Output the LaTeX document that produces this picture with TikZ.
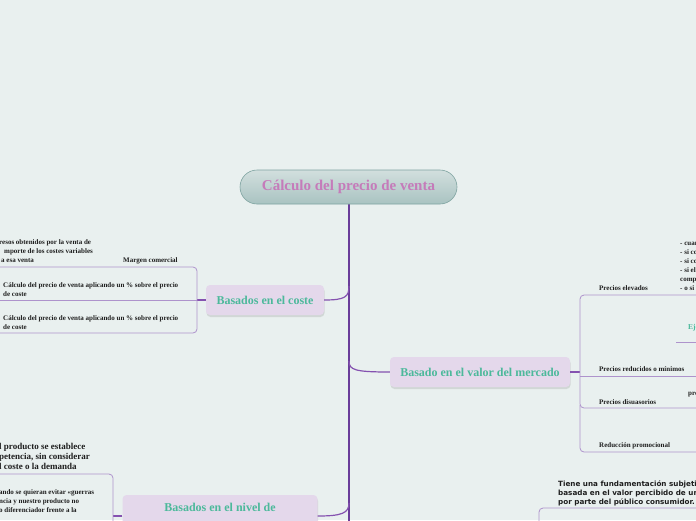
\documentclass[tikz,border=0pt]{standalone}
\usepackage{fontspec}
\setmainfont{Liberation Serif}
\newfontfamily\vsans{DejaVu Sans}
\usetikzlibrary{shadows}
\definecolor{bg}{HTML}{E9F0EF}
\definecolor{trunkc}{HTML}{6A3D9A}
\definecolor{branchc}{HTML}{8552B0}
\definecolor{subc}{HTML}{AE93CC}
\definecolor{topicfill}{HTML}{E4D8EB}
\definecolor{topictext}{HTML}{4CB99B}
\definecolor{centtop}{HTML}{D2DFDE}
\definecolor{centbot}{HTML}{A9C3C1}
\definecolor{centborder}{HTML}{7EA3A0}
\definecolor{centtext}{HTML}{C57BBA}
\definecolor{txt}{HTML}{1E1E1E}
\tikzset{
  central/.style={draw=centborder, line width=0.6pt, top color=centtop, bottom color=centbot,
    rounded corners=17pt, minimum width=217pt, minimum height=34pt, inner sep=0pt,
    text=centtext, font=\bfseries\fontsize{15}{17}\selectfont},
  topic/.style={fill=topicfill, rounded corners=4pt, inner sep=0pt, text=topictext,
    font=\bfseries\fontsize{12}{19}\selectfont,
    drop shadow={opacity=0.22, shadow xshift=0.5pt, shadow yshift=-2pt}},
  trunk/.style={draw=trunkc, line width=2.4pt},
  branch/.style={draw=branchc, line width=1.2pt},
  sub/.style={draw=subc, line width=0.8pt},
  small/.style={anchor=base west, inner sep=0pt, text=txt, font=\bfseries\fontsize{7}{8}\selectfont},
  mid/.style={anchor=base west, inner sep=0pt, text=txt, font=\bfseries\fontsize{9}{10}\selectfont},
  vtext/.style={anchor=base west, inner sep=0pt, text=txt, font=\vsans\bfseries\fontsize{7.2}{9}\selectfont},
}
\begin{document}
\begin{tikzpicture}[x=1pt,y=-1pt]
\fill[bg] (0,0) rectangle (696,520);
\useasboundingbox (0,0) rectangle (696,520);
\begin{scope}
\clip (0,0) rectangle (696,520);

% central topic and trunk
\coordinate (tend) at (349,530);
\draw[trunk] (349,200) -- (tend);
\node[central] (c) at (348.5,187) {Cálculo del precio de venta};

% main topics
\node[topic, minimum width=118pt, minimum height=30pt] (n1) at (265,300) {Basados en el coste};
\node[topic, minimum width=180pt, minimum height=30pt] (n2) at (480,372) {Basado en el valor del mercado};
\node[topic, minimum width=195pt, minimum height=46pt, align=center] (n3) at (220,518) {Basados en el nivel de\\competencia};

% connectors from trunk
\coordinate (t1) at (349,286);
\coordinate (t2) at (349,361);
\coordinate (t3) at (349,503);
\draw[branch] (t1) .. controls (349,297) and (345,300) .. (n1.east);
\draw[branch] (t2) .. controls (349,370) and (355,372) .. (n2.west);
\draw[branch] (t3) .. controls (349,513) and (342,516) .. (318,516) -- (n3.east |- 0,516);

% left bracket (coste)
\coordinate (b1) at (197,300);
\coordinate (b1top) at (0,267);
\coordinate (b1mid) at (0,300);
\coordinate (b1bot) at (0,333);
\draw[branch] (n1.west) -- (b1);
\draw[sub, rounded corners=4pt] (b1top) -- (197,267) -- (197,333) -- (b1bot);
\draw[sub] (b1) -- (b1mid);

% right bracket (mercado)
\coordinate (b2) at (580,372);
\coordinate (r1) at (700,295);
\coordinate (r2) at (700,376);
\coordinate (r3) at (700,408);
\coordinate (r4) at (700,452);
\coordinate (r5) at (676,342);
\coordinate (r6) at (700,342);
\draw[branch] (n2.east) -- (b2);
\draw[sub, rounded corners=4pt] (r1) -- (580,295) -- (580,408) -- (r3);
\draw[sub, rounded corners=4pt] (580,405) -- (580,452) -- (r4);
\draw[sub] (580,376) -- (r2);
\draw[sub] (r5) -- (r6);

% left bracket (nivel)
\coordinate (b3) at (113,516);
\coordinate (b3top) at (0,474);
\coordinate (b3end) at (113,530);
\draw[branch] (n3.west |- 0,516) -- (b3);
\draw[sub, rounded corners=4pt] (b3top) -- (113,474) -- (b3end);

% box below "Tiene una..."
\coordinate (bx1) at (700,508);
\coordinate (bx2) at (539,530);
\draw[sub, rounded corners=4pt] (bx1) -- (539,508) -- (bx2);

% texts, coste
\node[small] (s1) at (-1,244) {resos obtenidos por la venta de};
\node[small] (s2) at (4,253) {mporte de los costes variables};
\node[small] (s3) at (1,262) {a esa venta};
\node[small] (s4) at (123,262) {Margen comercial};
\node[small] (s5) at (3,287) {Cálculo del precio de venta aplicando un \% sobre el precio};
\node[small] (s6) at (3,296) {de coste};
\node[small] (s7) at (3,320) {Cálculo del precio de venta aplicando un \% sobre el precio};
\node[small] (s8) at (3,329) {de coste};

% texts, mercado
\node[small] (m0) at (680,245) {- cuando};
\node[small] (m1) at (680,254) {- si compite};
\node[small] (m2) at (680,263) {- si consigue};
\node[small] (m3) at (680,272) {- si el};
\node[small] (m4) at (680,281) {competencia};
\node[small] (m5) at (680,290) {- o si};
\node[small] (m6) at (599,290) {Precios elevados};
\node[small, text=topictext, font=\bfseries\fontsize{7.5}{8}\selectfont] (m7) at (688,329) {Ejemplo};
\node[small] (m8) at (599,371) {Precios reducidos o mínimos};
\node[small] (m9) at (688,395) {precios};
\node[small] (m10) at (599,404) {Precios disuasorios};
\node[small] (m11) at (599,447) {Reducción promocional};

% texts, nivel
\node[mid] (v1) at (-1,449) {l producto se establece};
\node[mid] (v2) at (-1,459) {petencia, sin considerar};
\node[mid] (v3) at (-1,469) {l coste o la demanda};
\node[small] (v4) at (-1,494) {ando se quieran evitar «guerras};
\node[small] (v5) at (-1,503) {ncia y nuestro producto no};
\node[small] (v6) at (-1,512) {o diferenciador frente a la};

% texts, valor percibido
\node[vtext] (p1) at (558,486) {Tiene una fundamentación subjetiva};
\node[vtext] (p2) at (558,495) {basada en el valor percibido de un producto};
\node[vtext] (p3) at (558,504) {por parte del público consumidor.};
\end{scope}
\end{tikzpicture}
\end{document}
